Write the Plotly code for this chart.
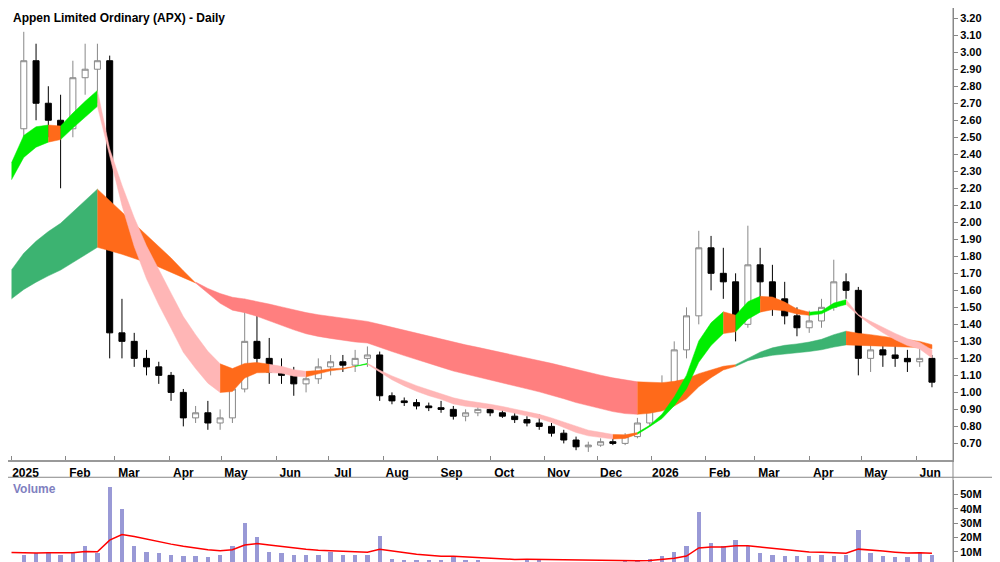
import pandas as pd
import numpy as np
import plotly.graph_objects as go

title = "Appen Limited Ordinary (APX) - Daily"
week_start = "2025-01-06"
opens = [2.55,2.95,2.70,2.60,2.55,2.85,2.90,2.95,1.35,1.30,1.20,1.15,1.10,1.00,0.85,0.88,0.82,0.85,1.02,1.30,1.20,1.12,1.10,1.05,1.08,1.15,1.18,1.16,1.20,1.22,0.98,0.95,0.94,0.92,0.91,0.90,0.86,0.88,0.90,0.88,0.86,0.84,0.82,0.80,0.76,0.72,0.68,0.69,0.71,0.70,0.74,0.82,0.95,1.05,1.25,1.45,1.85,1.70,1.65,1.40,1.75,1.65,1.55,1.45,1.38,1.42,1.50,1.65,1.60,1.20,1.25,1.22,1.20,1.18,1.20]
highs = [3.12,3.05,2.80,2.75,2.95,3.05,3.05,2.98,1.55,1.35,1.25,1.18,1.12,1.02,0.92,0.95,0.90,1.05,1.55,1.45,1.32,1.20,1.15,1.12,1.20,1.22,1.22,1.25,1.27,1.24,1.00,0.97,0.96,0.94,0.95,0.92,0.90,0.92,0.92,0.90,0.88,0.86,0.87,0.82,0.78,0.74,0.71,0.73,0.73,0.76,0.85,0.98,1.10,1.30,1.50,1.95,1.92,1.85,1.70,1.98,1.85,1.75,1.65,1.50,1.48,1.55,1.78,1.70,1.62,1.30,1.30,1.28,1.25,1.28,1.22]
lows = [2.45,2.60,2.50,2.20,2.50,2.75,2.70,1.20,1.20,1.15,1.10,1.05,0.95,0.80,0.82,0.78,0.78,0.82,1.00,1.15,1.05,1.05,0.98,1.00,1.05,1.10,1.12,1.12,1.15,0.95,0.93,0.92,0.90,0.89,0.88,0.84,0.83,0.86,0.86,0.85,0.82,0.80,0.78,0.74,0.70,0.66,0.65,0.68,0.69,0.69,0.73,0.80,0.92,1.00,1.20,1.40,1.60,1.55,1.30,1.38,1.55,1.45,1.40,1.33,1.35,1.38,1.48,1.55,1.10,1.12,1.15,1.15,1.12,1.15,1.03]
closes = [2.95,2.70,2.60,2.55,2.85,2.90,2.95,1.35,1.30,1.20,1.15,1.10,1.00,0.85,0.88,0.82,0.85,1.02,1.30,1.20,1.12,1.10,1.05,1.08,1.15,1.18,1.16,1.20,1.22,0.98,0.95,0.94,0.92,0.91,0.90,0.86,0.88,0.90,0.88,0.86,0.84,0.82,0.80,0.76,0.72,0.68,0.69,0.71,0.70,0.74,0.82,0.95,1.05,1.25,1.45,1.85,1.70,1.65,1.40,1.75,1.65,1.55,1.45,1.38,1.42,1.50,1.65,1.60,1.20,1.25,1.22,1.20,1.18,1.20,1.06]
volumes_m = [8,9,10,8,10,14,9,55,40,14,10,9,8,7,7,6,8,14,30,20,10,9,8,8,8,10,8,8,8,21,5,4,4,4,4,7,4,4,3,3,3,5,4,3,3,3,3,3,3,4,4,5,7,10,14,38,16,14,18,14,9,8,7,7,7,8,7,8,25,9,7,6,6,10,8]
# starting levels of the indicators at the left edge
seed_date = "2025-01-01"
short_seed = (2.35, 2.25)
long_seed = (1.72, 1.55)
vol_ma_seed_m = 9.5
price_ticks = [0.70,0.80,0.90,1.00,1.10,1.20,1.30,1.40,1.50,1.60,1.70,1.80,1.90,2.00,2.10,2.20,2.30,2.40,2.50,2.60,2.70,2.80,2.90,3.00,3.10,3.20]
vol_ticks = [0, 10, 20, 30, 40, 50]
month_ticks = ["2025-01-01","2025-02-01","2025-03-01","2025-04-01","2025-05-01","2025-06-01","2025-07-01","2025-08-01","2025-09-01","2025-10-01","2025-11-01","2025-12-01","2026-01-01","2026-02-01","2026-03-01","2026-04-01","2026-05-01","2026-06-01"]
month_labels = ["2025","Feb","Mar","Apr","May","Jun","Jul","Aug","Sep","Oct","Nov","Dec","2026","Feb","Mar","Apr","May","Jun"]

dates = pd.date_range(week_start, periods=len(closes), freq="7D") + pd.Timedelta(days=2)
rdates = pd.DatetimeIndex([pd.Timestamp(seed_date)]).append(dates)

def ema(vals, alpha, seed):
    out, v = [seed], seed
    for x in vals:
        v = v + alpha * (x - v)
        out.append(v)
    return np.array(out)

def wk(n):  # daily EMA span -> weekly smoothing factor
    return 1 - (1 - 2 / (n + 1)) ** 5

s_fast = ema(closes, wk(32), short_seed[0]); s_slow = ema(closes, wk(48), short_seed[1])
l_fast = ema(closes, wk(120), long_seed[0]); l_slow = ema(closes, wk(250), long_seed[1])

fig = go.Figure()

def ribbon(fast, slow, cols):
    n = len(fast)
    seg = []
    for i in range(1, n):
        up = fast[i] >= fast[i-1]
        if fast[i] > slow[i] and up: seg.append(cols[0])
        elif fast[i] < slow[i] and not up: seg.append(cols[2])
        else: seg.append(cols[1])
    i = 0
    while i < len(seg):
        j = i
        while j + 1 < len(seg) and seg[j+1] == seg[i]: j += 1
        idx = list(range(i, j + 2))
        top = [max(fast[k], slow[k]) for k in idx]
        bot = [min(fast[k], slow[k]) for k in idx]
        xs = list(rdates[idx]) + list(rdates[idx][::-1])
        ys = top + bot[::-1]
        fig.add_trace(go.Scatter(x=xs, y=ys, fill="toself", fillcolor=seg[i], mode="lines",
                                 line=dict(width=0.5, color=seg[i]), hoverinfo="skip", showlegend=False))
        i = j + 1

ribbon(l_fast, l_slow, ["#3cb371", "#ff6a1a", "#ff7f7f"])
ribbon(s_fast, s_slow, ["#00ee00", "#ff6a1a", "#ffb6b6"])

fig.add_trace(go.Candlestick(x=dates, open=opens, high=highs, low=lows, close=closes,
    increasing=dict(fillcolor="white", line=dict(color="#888888", width=1)),
    decreasing=dict(fillcolor="black", line=dict(color="black", width=1)),
    whiskerwidth=0, showlegend=False, xaxis="x", yaxis="y"))

vol = np.array(volumes_m) * 1e6
vol_ma = ema(vol, wk(50), vol_ma_seed_m * 1e6)
fig.add_trace(go.Bar(x=dates, y=vol, marker=dict(color="#9999d6", line=dict(width=0)), width=2.5*86400000,
                     showlegend=False, xaxis="x2", yaxis="y2"))
fig.add_trace(go.Scatter(x=rdates, y=vol_ma, mode="lines", line=dict(color="red", width=1.5),
                         showlegend=False, xaxis="x2", yaxis="y2"))

xr = ["2024-12-30", "2026-06-22"]
fig.update_layout(
    width=1000, height=562, margin=dict(l=0, r=55, t=0, b=0),
    paper_bgcolor="white", plot_bgcolor="white",
    font=dict(family="Liberation Sans, Arial", size=12, color="black"),
    xaxis=dict(range=xr, domain=[0, 1], anchor="y", tickvals=month_ticks, ticktext=month_labels,
               ticks="inside", ticklen=4, tickcolor="#888", showgrid=False, showline=True, linecolor="#999",
               linewidth=2, rangeslider=dict(visible=False), ticklabelshift=14, ticklabelstandoff=0,
               tickfont=dict(size=12, family="Liberation Sans", weight="bold")),
    yaxis=dict(domain=[0.195, 1], range=[0.60, 3.26], side="right", tickvals=price_ticks,
               ticktext=[f"{v:.2f}" for v in price_ticks], showgrid=False, showline=True, linecolor="#888",
               ticks="outside", ticklen=4, tickcolor="#888", zeroline=False,
               tickfont=dict(size=11, family="Liberation Sans", weight="bold")),
    xaxis2=dict(range=xr, domain=[0, 1], anchor="y2", showticklabels=False, showgrid=False, ticks=""),
    yaxis2=dict(domain=[0.007, 0.16], range=[0, 60e6], side="right", tickvals=[v*1e6 for v in vol_ticks],
                ticktext=[("0" if v == 0 else f"{v}M") for v in vol_ticks], showgrid=False, showline=True,
                linecolor="#888", ticks="outside", ticklen=4, tickcolor="#888", zeroline=False,
                tickfont=dict(size=11, family="Liberation Sans", weight="bold")),
    bargap=0,
)
fig.add_shape(type="line", xref="paper", yref="paper", x0=0, x1=1.06, y0=0.165, y1=0.165,
              line=dict(color="#888", width=1))
fig.add_shape(type="line", xref="paper", yref="paper", x0=1, x1=1, y0=0, y1=1, line=dict(color="#888", width=1))
fig.add_annotation(text=title, xref="paper", yref="paper", x=0.003, y=0.998, xanchor="left", yanchor="top",
                   showarrow=False, font=dict(size=12, family="Liberation Sans", weight="bold"))
fig.add_annotation(text="Volume", xref="paper", yref="paper", x=0.003, y=0.16, xanchor="left", yanchor="top",
                   showarrow=False, font=dict(size=12, family="Liberation Sans", weight="bold", color="#8080c0"))
fig.write_html("out.html")
